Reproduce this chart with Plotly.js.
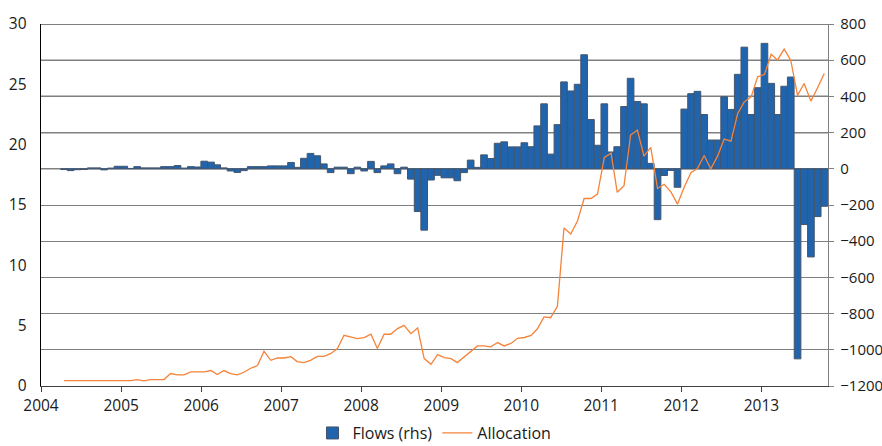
<!DOCTYPE html>
<html>
<head>
<meta charset="utf-8">
<script src="https://cdn.plot.ly/plotly-3.0.1.min.js"></script>
<style>html,body{margin:0;padding:0;background:#fff;}#chart{width:882px;height:446px;}</style>
</head>
<body>
<div id="chart"></div>
<script>
const months = [
"2004-04","2004-05","2004-06","2004-07","2004-08","2004-09","2004-10","2004-11","2004-12",
"2005-01","2005-02","2005-03","2005-04","2005-05","2005-06","2005-07","2005-08","2005-09","2005-10","2005-11","2005-12",
"2006-01","2006-02","2006-03","2006-04","2006-05","2006-06","2006-07","2006-08","2006-09","2006-10","2006-11","2006-12",
"2007-01","2007-02","2007-03","2007-04","2007-05","2007-06","2007-07","2007-08","2007-09","2007-10","2007-11","2007-12",
"2008-01","2008-02","2008-03","2008-04","2008-05","2008-06","2008-07","2008-08","2008-09","2008-10","2008-11","2008-12",
"2009-01","2009-02","2009-03","2009-04","2009-05","2009-06","2009-07","2009-08","2009-09","2009-10","2009-11","2009-12",
"2010-01","2010-02","2010-03","2010-04","2010-05","2010-06","2010-07","2010-08","2010-09","2010-10","2010-11","2010-12",
"2011-01","2011-02","2011-03","2011-04","2011-05","2011-06","2011-07","2011-08","2011-09","2011-10","2011-11","2011-12",
"2012-01","2012-02","2012-03","2012-04","2012-05","2012-06","2012-07","2012-08","2012-09","2012-10","2012-11","2012-12",
"2013-01","2013-02","2013-03","2013-04","2013-05","2013-06","2013-07","2013-08","2013-09","2013-10"
];

// Flows (rhs), right axis
const flows = [
-4,-10,-5,-4,5,5,-6,4,14,
14,2,12,5,5,5,12,12,18,4,12,10,
42,37,22,5,-12,-20,-10,12,12,12,16,16,
16,35,8,58,85,72,27,-21,9,9,-27,9,
-12,41,-21,16,27,-27,9,-57,-236,-339,-62,-36,
-50,-50,-66,-21,48,8,77,57,141,149,121,121,
144,122,237,359,81,244,480,430,467,630,272,130,
359,93,122,344,500,372,359,30,-281,-37,-9,-102,
330,415,428,300,159,159,398,328,522,672,300,448,
693,472,300,456,507,-1050,-308,-487,-264,-207
];

// Allocation, left axis
const allocation = [
0.45,0.45,0.45,0.45,0.45,0.45,0.45,0.45,0.45,
0.45,0.45,0.53,0.42,0.53,0.53,0.53,1.03,0.92,0.92,1.17,1.17,
1.17,1.28,0.95,1.28,1.03,0.92,1.14,1.47,1.69,2.88,2.13,2.32,
2.32,2.43,2.02,1.94,2.13,2.46,2.46,2.68,3.10,4.20,4.06,3.93,
4.01,4.29,3.10,4.29,4.29,4.76,5.03,4.34,4.81,2.27,1.80,2.60,
2.35,2.27,1.94,2.41,2.88,3.32,3.32,3.24,3.60,3.32,3.53,3.95,
4.02,4.19,4.72,5.73,5.66,6.61,13.1,12.6,13.7,15.54,15.54,15.9,
18.94,19.3,16.05,16.6,20.8,21.2,19.05,19.77,16.37,16.72,16.09,15.07,
16.5,17.7,18.02,19.1,17.99,19.05,20.46,20.29,22.59,23.55,23.96,25.62,
25.82,27.5,27.0,27.92,27.0,24.08,25.07,23.61,24.74,25.89
];

const seriesNames = ["Flows (rhs)", "Allocation"];

const xDates = months.map(m => m + "-15");
const FONT = "Open Sans, Noto Sans, sans-serif";
const DAY = 86400000;

const traces = [
  {
    type: "bar",
    name: seriesNames[0],
    x: xDates,
    y: flows,
    yaxis: "y",
    width: 30.4 * DAY,
    marker: { color: "#1f64ad", line: { color: "#44556b", width: 1 } },
    hoverinfo: "x+y"
  },
  {
    type: "scatter",
    mode: "lines",
    name: seriesNames[1],
    x: xDates,
    y: allocation,
    yaxis: "y2",
    line: { color: "#f5833a", width: 1.3 },
    hoverinfo: "x+y"
  }
];

const blackGrid = [0, 200, 400, 600, 800].map(v => ({
  type: "line", xref: "paper", yref: "y", x0: 0, x1: 1, y0: v, y1: v,
  layer: "below", line: { color: "#000000", width: 1.1 }
}));

const layout = {
  width: 882,
  height: 446,
  margin: { l: 41, r: 54, t: 24, b: 60, autoexpand: false },
  paper_bgcolor: "#ffffff",
  plot_bgcolor: "#ffffff",
  font: { family: FONT, size: 15.5, color: "#1a1a1a" },
  showlegend: true,
  bargap: 0,
  legend: {
    orientation: "h", x: 0.5, xanchor: "center", y: -0.083, yanchor: "top",
    font: { family: FONT, size: 16, color: "#1a1a1a" },
    bgcolor: "rgba(0,0,0,0)", traceorder: "normal"
  },
  xaxis: {
    type: "date",
    range: ["2004-01-01", "2013-11-01"],
    tick0: "2004-01-01",
    dtick: "M12",
    tickformat: "%Y",
    ticks: "outside",
    ticklen: 5,
    tickcolor: "#404040",
    showline: true,
    linecolor: "#404040",
    linewidth: 1.3,
    showgrid: false,
    zeroline: false,
    tickfont: { family: FONT, size: 15.5, color: "#1a1a1a" }
  },
  yaxis: {
    side: "right",
    range: [-1200, 800],
    tick0: 0,
    dtick: 200,
    showgrid: true,
    gridcolor: "#808080",
    gridwidth: 1,
    zeroline: false,
    showline: true,
    linecolor: "#808080",
    linewidth: 1.3,
    ticks: "outside",
    ticklen: 5,
    tickcolor: "#808080",
    ticklabelstandoff: 3,
    tickfont: { family: FONT, size: 15, color: "#1a1a1a" }
  },
  yaxis2: {
    overlaying: "y",
    side: "left",
    range: [0, 30],
    tick0: 0,
    dtick: 5,
    showgrid: false,
    zeroline: false,
    showline: true,
    linecolor: "#000000",
    linewidth: 1.3,
    ticks: "",
    ticklabelstandoff: 10,
    tickfont: { family: FONT, size: 15.5, color: "#1a1a1a" }
  },
  shapes: blackGrid
};

Plotly.newPlot("chart", traces, layout, { displayModeBar: false, staticPlot: true });
</script>
</body>
</html>
